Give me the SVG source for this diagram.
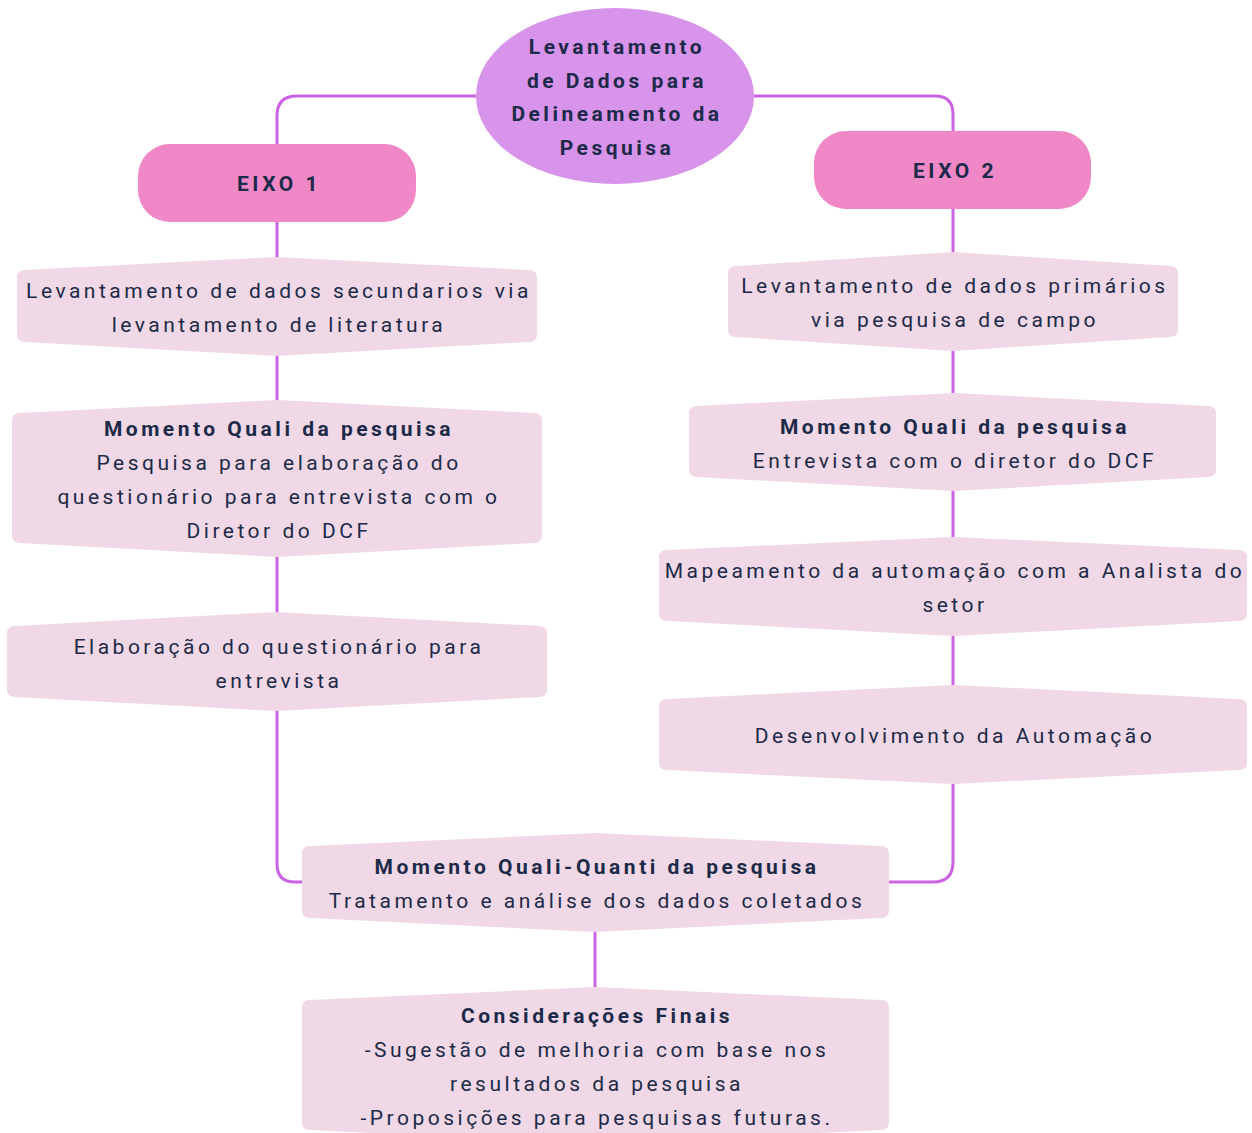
<svg xmlns="http://www.w3.org/2000/svg" width="1252" height="1133" viewBox="0 0 1252 1133">
<style>
.box{fill:#F0D8E6;}
.eixo{fill:#F088C8;}
.root{fill:#D893EA;}
.con{fill:none;stroke:#CB63E3;stroke-width:3;}
text{font-family:Roboto,"Liberation Sans",sans-serif;fill:#1B2A48;text-anchor:middle;font-size:21px;letter-spacing:3.5px;}
.b{font-weight:bold;letter-spacing:3.5px;}
</style>
<rect width="1252" height="1133" fill="#ffffff"/>
<g id="connectors">
<path class="con" d="M476,96 H297 Q277,96 277,116 V144"/>
<path class="con" d="M754,96 H935 Q953,96 953,114 V131"/>
<path class="con" d="M277,222 V257 M277,356 V400 M277,557 V612"/>
<path class="con" d="M277,711 V864 Q277,882 295,882 H302"/>
<path class="con" d="M953,209 V252 M953,351 V393 M953,491 V537 M953,636 V685"/>
<path class="con" d="M953,784 V862 Q953,882 933,882 H889"/>
<path class="con" d="M595,932 V987"/>
</g>
<g id="root">
<ellipse class="root" cx="615" cy="96" rx="139" ry="88"/>
<text class="b" x="617" y="54">Levantamento</text>
<text class="b" x="617" y="88">de Dados para</text>
<text class="b" x="617" y="121">Delineamento da</text>
<text class="b" x="617" y="155">Pesquisa</text>
</g>
<g id="eixo1">
<rect class="eixo" x="138" y="144" width="278" height="78" rx="32"/>
<text class="b" x="279" y="191">EIXO 1</text>
</g>
<g id="eixo2">
<rect class="eixo" x="814" y="131" width="277" height="78" rx="32"/>
<text class="b" x="955" y="178">EIXO 2</text>
</g>
<g id="l1">
<path class="box" d="M17,278 Q17,270 25,270 L277,257 L529,270 Q537,270 537,278 L537,334 Q537,342 529,342 L277,356 L25,342 Q17,342 17,334 Z"/>
<text x="279" y="298">Levantamento de dados secundarios via</text>
<text x="279" y="332">levantamento de literatura</text>
</g>
<g id="l2">
<path class="box" d="M12,421 Q12,413 20,413 L277,400 L534,413 Q542,413 542,421 L542,535 Q542,543 534,543 L277,557 L20,543 Q12,543 12,535 Z"/>
<text class="b" x="279" y="436">Momento Quali da pesquisa</text>
<text x="279" y="470">Pesquisa para elaboração do</text>
<text x="279" y="504">questionário para entrevista com o</text>
<text x="279" y="538">Diretor do DCF</text>
</g>
<g id="l3">
<path class="box" d="M7,634 Q7,626 15,626 L277,612 L539,626 Q547,626 547,634 L547,689 Q547,697 539,697 L277,711 L15,697 Q7,697 7,689 Z"/>
<text x="279" y="654">Elaboração do questionário para</text>
<text x="279" y="688">entrevista</text>
</g>
<g id="r1">
<path class="box" d="M728,274 Q728,266 736,266 L953,252 L1170,266 Q1178,266 1178,274 L1178,329 Q1178,337 1170,337 L953,351 L736,337 Q728,337 728,329 Z"/>
<text x="955" y="293">Levantamento de dados primários</text>
<text x="955" y="327">via pesquisa de campo</text>
</g>
<g id="r2">
<path class="box" d="M689,414 Q689,406 697,406 L953,393 L1208,406 Q1216,406 1216,414 L1216,469 Q1216,477 1208,477 L953,491 L697,477 Q689,477 689,469 Z"/>
<text class="b" x="955" y="434">Momento Quali da pesquisa</text>
<text x="955" y="468">Entrevista com o diretor do DCF</text>
</g>
<g id="r3">
<path class="box" d="M659,558 Q659,550 667,550 L953,537 L1239,550 Q1247,550 1247,558 L1247,613 Q1247,621 1239,621 L953,636 L667,621 Q659,621 659,613 Z"/>
<text x="955" y="578">Mapeamento da automação com a Analista do</text>
<text x="955" y="612">setor</text>
</g>
<g id="r4">
<path class="box" d="M659,707 Q659,699 667,699 L953,685 L1239,699 Q1247,699 1247,707 L1247,762 Q1247,770 1239,770 L953,784 L667,770 Q659,770 659,762 Z"/>
<text x="955" y="743">Desenvolvimento da Automação</text>
</g>
<g id="q">
<path class="box" d="M302,854 Q302,846 310,846 L595,833 L881,846 Q889,846 889,854 L889,910 Q889,918 881,918 L595,932 L310,918 Q302,918 302,910 Z"/>
<text class="b" x="597" y="874">Momento Quali-Quanti da pesquisa</text>
<text x="597" y="908">Tratamento e análise dos dados coletados</text>
</g>
<g id="f">
<path class="box" d="M302,1008 Q302,1000 310,1000 L595,987 L881,1000 Q889,1000 889,1008 L889,1122 Q889,1130 881,1130 L595,1144 L310,1130 Q302,1130 302,1122 Z"/>
<text class="b" x="597" y="1023">Considerações Finais</text>
<text x="597" y="1057">-Sugestão de melhoria com base nos</text>
<text x="597" y="1091">resultados da pesquisa</text>
<text x="597" y="1125">-Proposições para pesquisas futuras.</text>
</g>
</svg>
